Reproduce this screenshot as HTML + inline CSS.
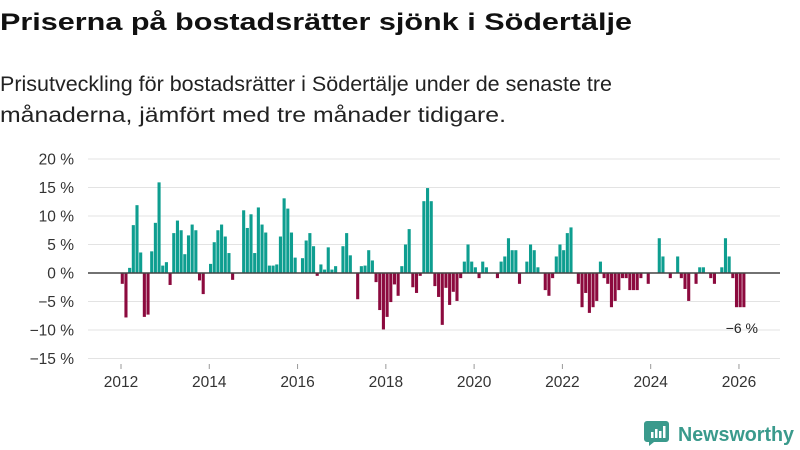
<!DOCTYPE html>
<html><head><meta charset="utf-8"><style>
body{margin:0;width:800px;height:450px;background:#fff;font-family:"Liberation Sans","DejaVu Sans",sans-serif;overflow:hidden;position:relative}
svg{position:absolute;left:0;top:0}
</style></head><body>
<svg width="800" height="140">
  <text x="0" y="30" font-size="24" font-weight="bold" fill="#111" textLength="632" lengthAdjust="spacingAndGlyphs" font-family="Liberation Sans, DejaVu Sans, sans-serif">Priserna på bostadsrätter sjönk i Södertälje</text>
  <text x="0" y="91" font-size="21" fill="#222" textLength="612" lengthAdjust="spacingAndGlyphs" font-family="Liberation Sans, DejaVu Sans, sans-serif">Prisutveckling för bostadsrätter i Södertälje under de senaste tre</text>
  <text x="0" y="122" font-size="21" fill="#222" textLength="506" lengthAdjust="spacingAndGlyphs" font-family="Liberation Sans, DejaVu Sans, sans-serif">månaderna, jämfört med tre månader tidigare.</text>
</svg>
<svg id="chart" width="800" height="450"></svg>
<script>
const values = [-1.9,-7.8,0.9,8.4,11.9,3.6,-7.7,-7.3,3.8,8.8,15.9,1.3,1.9,-2.1,7.0,9.2,7.5,3.3,6.6,8.5,7.5,-1.3,-3.7,0,
1.6,5.4,7.5,8.5,6.4,3.5,-1.2,0,0,11.0,7.9,10.3,3.5,11.5,8.5,7.1,1.3,1.3,1.5,6.4,13.1,11.3,7.1,2.7,
0,2.6,5.7,7.0,4.7,-0.5,1.5,0.6,4.5,0.6,1.2,0,4.7,7.0,3.1,0,-4.6,1.2,1.3,4.0,2.2,-1.6,-6.5,-9.9,
-7.7,-5.1,-2.0,-4.0,1.2,5.0,7.7,-2.5,-3.5,-0.5,12.6,14.9,12.6,-2.3,-4.2,-9.1,-2.6,-5.6,-3.3,-4.9,-0.9,2.0,
5.0,2.0,1.0,-0.9,2.0,1.0,0,0,-0.9,2.0,2.9,6.1,4.0,4.0,-1.9,0,2.0,5.0,4.0,1.0,0,-3.0,
-4.0,-0.9,2.9,5.0,4.0,7.0,8.0,0,-1.9,-6.0,-3.5,-7.0,-6.0,-4.9,2.0,-0.9,-1.9,-6.0,-4.9,-3.0,-0.9,-0.9,-3.0,-3.0,
-3.0,-0.9,0,-1.9,0,0,6.1,2.9,0,-0.9,0,2.9,-0.9,-2.8,-4.9,0,-1.9,1.0,1.0,0,-0.9,-1.9,0,1.0,
6.1,2.9,-0.9,-6,-6,-6];
const yTicks = [20,15,10,5,0,-5,-10,-15];
const yTickLabels = ["20 %","15 %","10 %","5 %","0 %","−5 %","−10 %","−15 %"];
const xTicks = [2012,2014,2016,2018,2020,2022,2024,2026];
const startYear = 2012;
const lastLabel = "−6 %";

const NS="http://www.w3.org/2000/svg";
const svg=document.getElementById('chart');
function y(v){return 273-v*5.7;}
function xYear(yr){return 121+(yr-startYear)*44.14;}
function xMonth(m){return 121+(m+0.35)*3.678;}
function mk(tag,attrs,parent){const e=document.createElementNS(NS,tag);for(const k in attrs)e.setAttribute(k,attrs[k]);(parent||svg).appendChild(e);return e;}

yTicks.forEach((t,i)=>{
  if(t!==0){
    const g=mk('line',{x1:88,x2:780,y1:y(t),y2:y(t),stroke:'#e3e3e3','stroke-width':1});
    
    
  }
  const tx=mk('text',{x:74,y:y(t)+5.5,'text-anchor':'end','font-size':15.5,fill:'#333','font-family':'Liberation Sans, DejaVu Sans, sans-serif'});
  tx.textContent=yTickLabels[i];
  
  
});
xTicks.forEach(yr=>{
  const x=xYear(yr);
  const tk=mk('line',{x1:x,x2:x,y1:364,y2:369,stroke:'#999','stroke-width':1});
  
  
  const tx=mk('text',{x:x,y:387,'text-anchor':'middle','font-size':15.5,fill:'#333','font-family':'Liberation Sans, DejaVu Sans, sans-serif'});
  tx.textContent=yr;
  
  
});
values.forEach((v,m)=>{
  if(v===0)return;
  const x=xMonth(m)-1.55;
  const r=mk('rect',{x:x,width:3.1,y:Math.min(y(v),y(0)),height:Math.abs(y(v)-y(0)),fill:v>0?'#0e9e90':'#8c0a3e'});
  
  
});
const zl=mk('line',{x1:88,x2:780,y1:y(0),y2:y(0),stroke:'#444','stroke-width':1.5});


const lastIdx=values.length-1;
const lb=mk('text',{x:xMonth(lastIdx)-2,y:y(values[lastIdx])+26,'text-anchor':'middle','font-size':14,fill:'#222','font-family':'Liberation Sans, DejaVu Sans, sans-serif'});
lb.textContent=lastLabel;


</script>
<svg width="800" height="450" style="pointer-events:none">
  <path d="M647 421 h19 a3 3 0 0 1 3 3 v15 a3 3 0 0 1 -3 3 h-12 l-5 4 v-4 h-2 a3 3 0 0 1 -3 -3 v-15 a3 3 0 0 1 3 -3z" fill="#3a9a8c"/>
  <rect x="651" y="432" width="2.5" height="6" fill="#fff"/>
  <rect x="655" y="429" width="2.5" height="9" fill="#fff"/>
  <rect x="659" y="431" width="2.5" height="7" fill="#fff"/>
  <rect x="663" y="426" width="2.5" height="12" fill="#fff"/>
  <text x="678" y="441" font-size="20" font-weight="bold" fill="#3a9a8c" textLength="116" lengthAdjust="spacingAndGlyphs" font-family="Liberation Sans, DejaVu Sans, sans-serif">Newsworthy</text>
</svg>
</body></html>
